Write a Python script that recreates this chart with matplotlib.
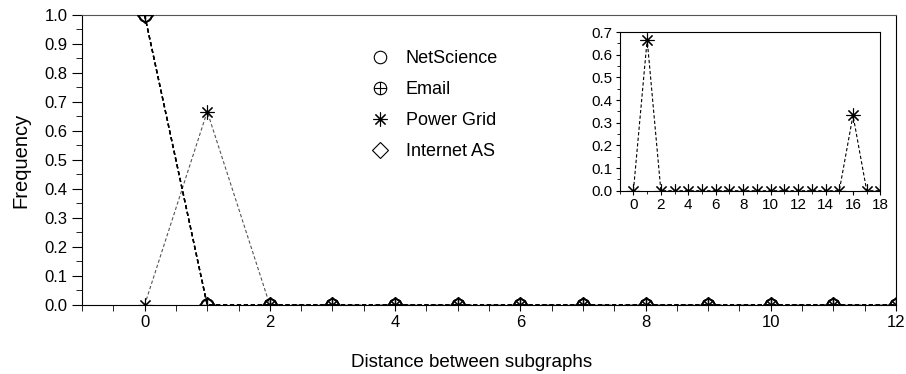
import numpy as np
import matplotlib.pyplot as plt
from matplotlib.path import Path
from matplotlib.ticker import MultipleLocator

plt.rcParams['font.family'] = ['Liberation Sans', 'DejaVu Sans']

# main panel data (distance 0..12)
dist = np.arange(0, 13)
netscience = [1.0] + [0.0] * 12
email = [1.0] + [0.0] * 12
power_grid = [0.0, 0.667] + [0.0] * 11
internet_as = [1.0] + [0.0] * 12

# inset: power grid over the full range 0..18
inset_dist = np.arange(0, 19)
inset_power = [0.0, 0.667] + [0.0] * 14 + [0.333, 0.0, 0.0]

# circle with a plus inside
circ = Path.unit_circle()
cross = Path([(-1, 0), (1, 0), (0, -1), (0, 1)],
             [Path.MOVETO, Path.LINETO, Path.MOVETO, Path.LINETO])
oplus = Path.make_compound_path(circ, cross)

fig = plt.figure(figsize=(9.06, 3.74), dpi=100)
ax = fig.add_axes([0.0905, 0.1845, 0.8985, 0.7755])

ls = (0, (3, 2))
ax.plot(dist, power_grid, color='#555555', linestyle=ls, linewidth=0.8,
        marker=(8, 2, 0), markersize=10, markeredgecolor='black', markeredgewidth=0.8,
        label='Power Grid', zorder=2)
ax.plot(dist, internet_as, color='black', linestyle=ls, linewidth=1.0,
        marker='D', markersize=8, fillstyle='none', markeredgewidth=1.0,
        label='Internet AS', zorder=3)
ax.plot(dist, email, color='black', linestyle=ls, linewidth=1.0,
        marker=oplus, markersize=9, fillstyle='none', markeredgewidth=1.0,
        label='Email', zorder=3)
ax.plot(dist, netscience, color='black', linestyle=ls, linewidth=1.0,
        marker='o', markersize=9, fillstyle='none', markeredgewidth=1.2,
        label='NetScience', zorder=4)

ax.set_xlim(-1, 12)
ax.set_ylim(0, 1.0)
ax.xaxis.set_major_locator(MultipleLocator(2))
ax.xaxis.set_minor_locator(MultipleLocator(0.5))
ax.yaxis.set_major_locator(MultipleLocator(0.1))
ax.yaxis.set_minor_locator(MultipleLocator(0.05))
ax.yaxis.set_major_formatter(plt.FormatStrFormatter('%.1f'))
ax.tick_params(which='both', direction='out', labelsize=12)
ax.tick_params(axis='y', which='major', length=7)
ax.tick_params(axis='y', which='minor', length=4)
ax.tick_params(axis='x', which='both', length=4)
ax.set_xlabel('Distance between subgraphs', fontsize=13.5)
ax.xaxis.set_label_coords(0.479, -0.17)
ax.set_ylabel('Frequency', fontsize=14.5)
ax.yaxis.set_label_coords(-0.063, 0.5)
ax.spines['top'].set_color('#555555')

# legend: markers only, no lines
h, l = ax.get_legend_handles_labels()
order = ['NetScience', 'Email', 'Power Grid', 'Internet AS']
handles = []
for name in order:
    src = h[l.index(name)]
    proxy = plt.Line2D([], [], linestyle='none', marker=src.get_marker(),
                       markersize=src.get_markersize(), fillstyle='none',
                       markeredgecolor='black', markeredgewidth=0.8,
                       color='black')
    handles.append(proxy)
fig.legend(handles, order, loc='upper left', bbox_to_anchor=(0.392, 0.91),
           frameon=False, fontsize=13, labelspacing=0.78, handletextpad=0.9,
           handlelength=1.0)

# inset
ins = fig.add_axes([0.684, 0.49, 0.2878, 0.4243])
ins.plot(inset_dist, inset_power, color='black', linestyle=ls, linewidth=0.8,
         marker=(8, 2, 0), markersize=10, markeredgewidth=0.8)
ins.set_xlim(-1, 18)
ins.set_ylim(0, 0.7)
ins.xaxis.set_major_locator(MultipleLocator(2))
ins.xaxis.set_minor_locator(MultipleLocator(1))
ins.yaxis.set_major_locator(MultipleLocator(0.1))
ins.yaxis.set_minor_locator(MultipleLocator(0.05))
ins.yaxis.set_major_formatter(plt.FormatStrFormatter('%.1f'))
ins.tick_params(which='both', direction='out', labelsize=11, pad=2)
ins.tick_params(which='major', length=3)
ins.tick_params(which='minor', length=2)

fig.savefig('out.png', dpi=100)
